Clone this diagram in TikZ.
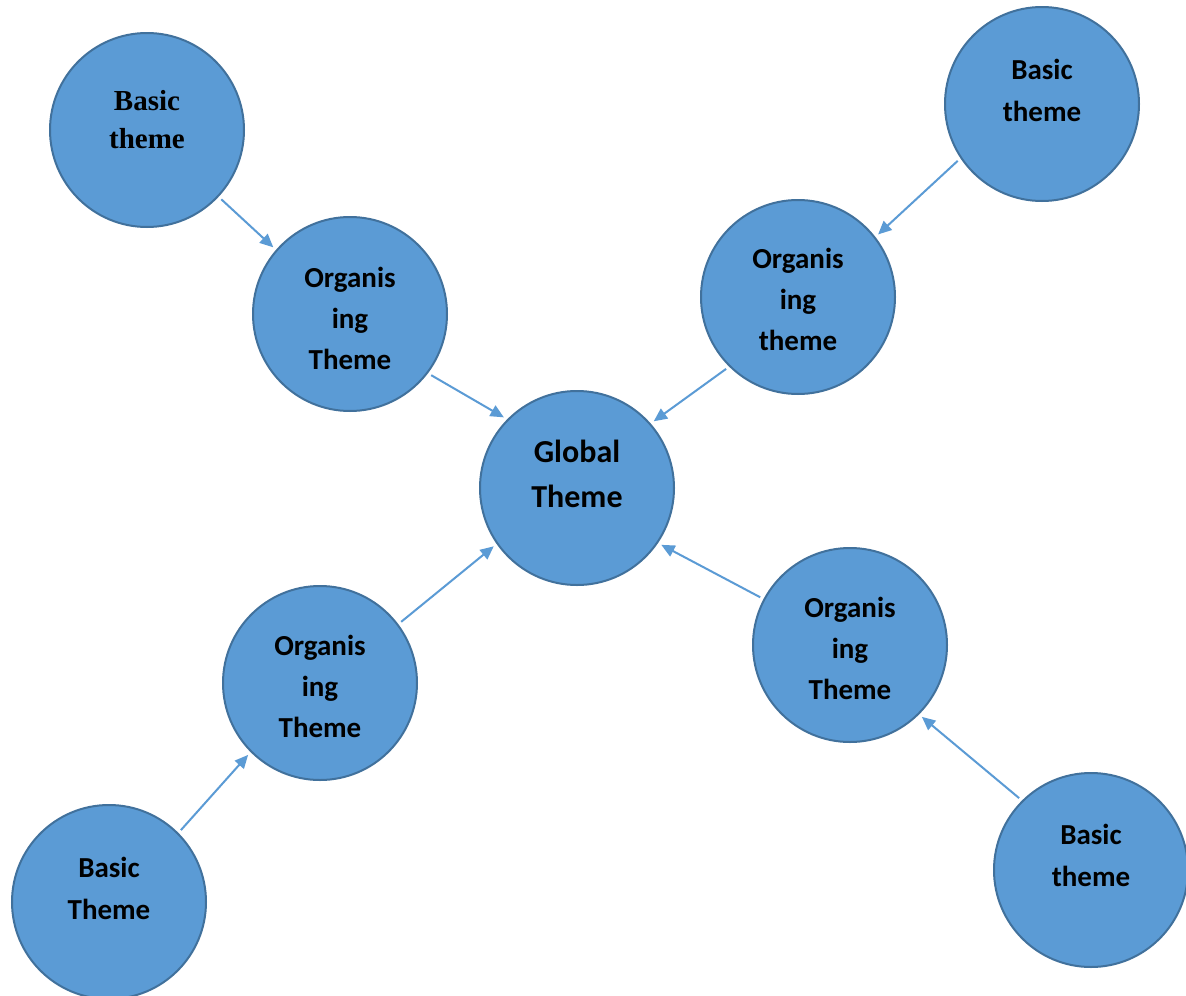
\documentclass[tikz,border=0pt]{standalone}
\usepackage{fontspec}
\setmainfont{Carlito}
\newfontfamily\tnr{Liberation Serif}
\usetikzlibrary{arrows.meta}
\definecolor{fillblue}{HTML}{5B9BD5}
\definecolor{edgeblue}{HTML}{41719C}
\begin{document}
\begin{tikzpicture}[x=0.75pt,y=-0.75pt,
  circ/.style={circle,draw=edgeblue,fill=fillblue,line width=1.5pt,minimum size=145.5pt,inner sep=0pt,outer sep=3.5pt},
  lbl/.style={align=center,font=\fontsize{21.75}{30.75}\selectfont\bfseries,text=black},
  blbl/.style={align=center,font=\fontsize{21.75}{31.5}\selectfont\bfseries,text=black},
  glbl/.style={align=center,font=\fontsize{24}{33.75}\selectfont\bfseries,text=black},
  slbl/.style={align=center,font=\tnr\fontsize{21.75}{28.5}\selectfont\bfseries,text=black},
  arr/.style={draw=fillblue,line width=1.5pt,-{Triangle[length=10pt,width=9pt]}}]
\useasboundingbox (0,0) rectangle (1186,996);
\fill[white] (0,0) rectangle (1186,996);

\node[circ] (b1) at (147,130) {};
\node[circ] (o1) at (350,314) {};
\node[circ] (g)  at (577,488) {};
\node[circ] (b2) at (1042,104) {};
\node[circ] (o2) at (798,297) {};
\node[circ] (o3) at (320,683) {};
\node[circ] (b3) at (109,902) {};
\node[circ] (o4) at (850,645) {};
\node[circ] (b4) at (1091,870) {};

\node[slbl] (tb1) at (147,120) {Basic\\theme};
\node[lbl]  (to1) at (350,318) {Organis\\ing\\Theme};
\node[glbl] (tg)  at (577,474) {Global\\Theme};
\node[blbl] (tb2) at (1042,90) {Basic\\theme};
\node[lbl]  (to2) at (798,299) {Organis\\ing\\theme};
\node[lbl]  (to3) at (320,686) {Organis\\ing\\Theme};
\node[blbl] (tb3) at (109,888) {Basic\\Theme};
\node[lbl]  (to4) at (850,648) {Organis\\ing\\Theme};
\node[blbl] (tb4) at (1091,855) {Basic\\theme};

\draw[arr] (b1.-43) -- (o1.139);
\draw[arr] (o1.-37) -- (g.136);
\draw[arr] (b2.-146) -- (o2.38);
\draw[arr] (o2.225) -- (g.41);
\draw[arr] (b3.45) -- (o3.225);
\draw[arr] (o3.37) -- (g.215);
\draw[arr] (b4.135) -- (o4.-45);
\draw[arr] (o4.152) -- (g.-34);
\end{tikzpicture}
\end{document}
